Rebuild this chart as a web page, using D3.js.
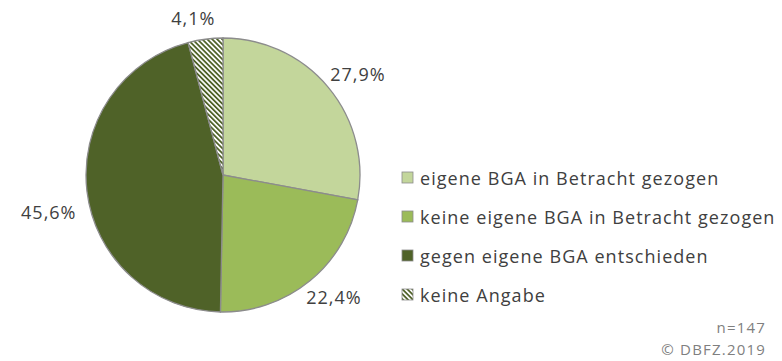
<!DOCTYPE html>
<html><head><meta charset="utf-8">
<script src="https://cdn.jsdelivr.net/npm/d3@7"></script>
<style>body{margin:0;background:#fff}svg{display:block}</style>
</head><body>
<svg id="c" width="782" height="361"></svg>
<script>
const categories = ["eigene BGA in Betracht gezogen","keine eigene BGA in Betracht gezogen","gegen eigene BGA entschieden","keine Angabe"];
const values = [27.9, 22.4, 45.6, 4.1];
const labels = ["27,9%","22,4%","45,6%","4,1%"];
const colors = ["#c3d69b","#9bbb59","#4f6228","url(#hatch)"];
const footnotes = ["n=147","© DBFZ.2019"];

const svg = d3.select("#c");
const font = "'Open Sans', 'DejaVu Sans', sans-serif";
const textColor = "#404040";
const defs = svg.append("defs");
const pat = defs.append("pattern").attr("id","hatch").attr("patternUnits","userSpaceOnUse")
  .attr("width",3.5).attr("height",3.5).attr("patternTransform","rotate(-45)");
pat.append("rect").attr("width",3.5).attr("height",3.5).attr("fill","#fff");
pat.append("rect").attr("width",1.8).attr("height",3.5).attr("fill","#4f6228");

const cx = 223, cy = 175, r = 137;
const pie = d3.pie().sort(null).value(d=>d);
const arcs = pie(values);
const arc = d3.arc().innerRadius(0).outerRadius(r);
const g = svg.append("g").attr("transform",`translate(${cx},${cy})`);
g.selectAll("path").data(arcs).join("path")
  .attr("d",arc).attr("fill",(d,i)=>colors[i])
  .attr("stroke","#8c8c8c").attr("stroke-width",1.3);

g.selectAll("text.lbl").data(arcs).join("text").attr("class","lbl")
  .attr("font-family",font).attr("font-size",18).attr("fill",textColor)
  .attr("letter-spacing",1)
  .attr("text-anchor","middle").attr("dominant-baseline","central")
  .text((d,i)=>labels[i])
  .each(function(d){
    const a=(d.startAngle+d.endAngle)/2;
    const w=this.getComputedTextLength()/2, h=11;
    const s=Math.sin(a), c=-Math.cos(a);
    const x=(r+8)*s + w*s*1.1 + (Math.abs(s)<0.2 ? -8 : 0), y=(r+10)*c + h*c + (Math.abs(s)>0.9 ? 18 : 0);
    d3.select(this).attr("x",x).attr("y",y);
  });

const leg = svg.append("g").attr("transform","translate(402,178)");
const rows = leg.selectAll("g").data(categories).join("g")
  .attr("transform",(d,i)=>`translate(0,${i*39})`);
rows.append("rect").attr("x",0).attr("y",-6).attr("width",11).attr("height",11)
  .attr("fill",(d,i)=>colors[i]).attr("stroke","#8c8c8c").attr("stroke-width",0.8);
rows.append("text").attr("x",18).attr("y",0).attr("dominant-baseline","central")
  .attr("font-family",font).attr("font-size",18).attr("letter-spacing",1.05)
  .attr("fill",textColor).text(d=>d);

svg.selectAll("text.fn").data(footnotes).join("text").attr("class","fn")
  .attr("x",766).attr("y",(d,i)=>333+i*22).attr("text-anchor","end")
  .attr("font-family",font).attr("font-size",15).attr("letter-spacing",1.2)
  .attr("fill","#7f7f7f").text(d=>d);
</script>
</body></html>
